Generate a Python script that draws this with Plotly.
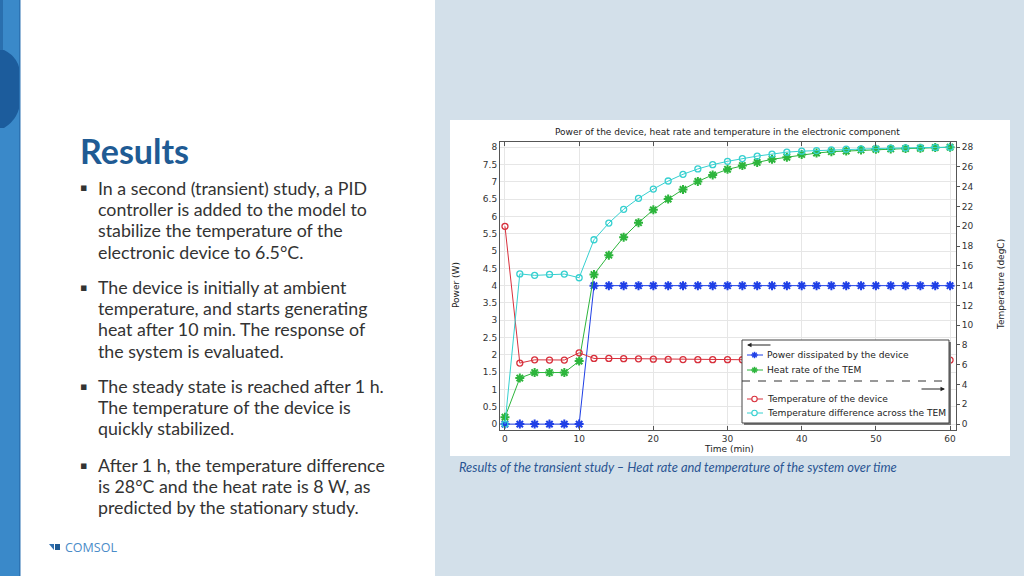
import plotly.graph_objects as go

# time steps of the transient study (min)
time_min = [0, 2, 4, 6, 8, 10, 12, 14, 16, 18, 20, 22, 24, 26, 28, 30,
            32, 34, 36, 38, 40, 42, 44, 46, 48, 50, 52, 54, 56, 58, 60]

# left axis, power (W)
power_device = [0, 0, 0, 0, 0, 0, 4, 4, 4, 4, 4, 4, 4, 4, 4, 4,
                4, 4, 4, 4, 4, 4, 4, 4, 4, 4, 4, 4, 4, 4, 4]
heat_rate_tem = [0.2, 1.33, 1.49, 1.49, 1.49, 1.82, 4.32, 4.88, 5.4, 5.82, 6.19, 6.5, 6.78, 7.01, 7.2, 7.36,
                 7.47, 7.56, 7.65, 7.71, 7.79, 7.83, 7.87, 7.89, 7.92, 7.94, 7.95, 7.96, 7.97, 7.99, 8.0]

# right axis, temperature (degC)
temp_device = [20.0, 6.17, 6.5, 6.48, 6.48, 7.21, 6.64, 6.64, 6.62, 6.6, 6.57, 6.54, 6.53, 6.52, 6.52, 6.52,
               6.51, 6.51, 6.5, 6.5, 6.5, 6.5, 6.5, 6.5, 6.5, 6.5, 6.5, 6.5, 6.5, 6.5, 6.48]
temp_diff_tem = [0.0, 15.19, 15.04, 15.14, 15.17, 14.8, 18.64, 20.33, 21.72, 22.83, 23.77, 24.58, 25.26, 25.8, 26.23, 26.57,
                 26.85, 27.1, 27.3, 27.5, 27.6, 27.66, 27.73, 27.8, 27.83, 27.86, 27.9, 27.93, 27.95, 27.98, 28.0]

legend_labels = ['Power dissipated by the device', 'Heat rate of the TEM',
                 'Temperature of the device', 'Temperature difference across the TEM']
colors = ['#1f3fe6', '#2db53c', '#d8303c', '#36d0d0']

bullets = [
    ['In a second (transient) study, a PID', 'controller is added to the model to',
     'stabilize the temperature of the', 'electronic device to 6.5°C.'],
    ['The device is initially at ambient', 'temperature, and starts generating',
     'heat after 10 min. The response of', 'the system is evaluated.'],
    ['The steady state is reached after 1 h.', 'The temperature of the device is',
     'quickly stabilized.'],
    ['After 1 h, the temperature difference', 'is 28°C and the heat rate is 8 W, as',
     'predicted by the stationary study.'],
]
bullet_first_line = [188, 287, 386, 465]
line_step = 21.2

W, H = 1024, 576


def px(x):
    return x / W


def py(y):
    return 1 - y / H


chart_font = 'DejaVu Sans'
slide_font = 'Lato'

fig = go.Figure()

fig.add_trace(go.Scatter(x=time_min, y=power_device, mode='lines+markers', yaxis='y',
                         line=dict(color=colors[0], width=1),
                         marker=dict(symbol='asterisk-open', size=7.5, line=dict(color=colors[0], width=2))))
fig.add_trace(go.Scatter(x=time_min, y=heat_rate_tem, mode='lines+markers', yaxis='y',
                         line=dict(color=colors[1], width=1),
                         marker=dict(symbol='asterisk-open', size=7.5, line=dict(color=colors[1], width=2))))
fig.add_trace(go.Scatter(x=time_min, y=temp_device, mode='lines+markers', yaxis='y2',
                         line=dict(color=colors[2], width=1),
                         marker=dict(symbol='circle-open', size=6, line=dict(color=colors[2], width=1.3))))
fig.add_trace(go.Scatter(x=time_min, y=temp_diff_tem, mode='lines+markers', yaxis='y2',
                         line=dict(color=colors[3], width=1),
                         marker=dict(symbol='circle-open', size=6, line=dict(color=colors[3], width=1.3))))

shapes = []
annotations = []

# slide background pieces
shapes.append(dict(type='rect', xref='paper', yref='paper', x0=px(20), x1=px(435), y0=0, y1=1,
                   fillcolor='white', line=dict(width=0), layer='below'))
shapes.append(dict(type='rect', xref='paper', yref='paper', x0=0, x1=px(20), y0=0, y1=1,
                   fillcolor='#3a89c9', line=dict(width=0), layer='below'))
shapes.append(dict(type='path', xref='paper', yref='paper', layer='below', fillcolor='#1c5c9c',
                   line=dict(width=0),
                   path='M 0 {a} L {b} {a} Q {c} {d} {c} {e} L {c} {f} Q {c} {g} {b} {h} L 0 {h} Z'.format(
                       a=py(50), b=px(4), c=px(20), d=py(58), e=py(75), f=py(100), g=py(118), h=py(128))))
shapes.append(dict(type='rect', xref='paper', yref='paper', x0=0, x1=px(3), y0=py(50), y1=1,
                   fillcolor='#2a6fae', line=dict(width=0), layer='below'))
shapes.append(dict(type='rect', xref='paper', yref='paper', x0=px(19), x1=px(20.5), y0=0, y1=1,
                   fillcolor='#2c73b3', line=dict(width=0), layer='below'))
# white chart image
shapes.append(dict(type='rect', xref='paper', yref='paper', x0=px(450), x1=px(1010), y0=py(456), y1=py(120),
                   fillcolor='white', line=dict(width=0), layer='below'))

# legend box (drawn by hand, like the COMSOL one)
shapes.append(dict(type='rect', xref='paper', yref='paper', x0=px(744), x1=px(951), y0=py(425), y1=py(342),
                   fillcolor='#777777', line=dict(width=0)))
shapes.append(dict(type='rect', xref='paper', yref='paper', x0=px(742), x1=px(949), y0=py(423), y1=py(340),
                   fillcolor='white', line=dict(color='#444444', width=1)))
shapes.append(dict(type='line', xref='paper', yref='paper', x0=px(742), x1=px(949), y0=py(381), y1=py(381),
                   line=dict(color='#333333', width=1, dash='8px,8px')))
annotations.append(dict(xref='paper', yref='paper', x=px(747), y=py(345), ax=25, ay=0, axref='pixel', ayref='pixel',
                        text='', showarrow=True, arrowhead=2, arrowsize=0.9, arrowwidth=1, arrowcolor='#222'))
annotations.append(dict(xref='paper', yref='paper', x=px(945), y=py(389), ax=-25, ay=0, axref='pixel', ayref='pixel',
                        text='', showarrow=True, arrowhead=2, arrowsize=0.9, arrowwidth=1, arrowcolor='#222'))

row_y = [355, 370, 399, 413]
for i, (lab, col, ry) in enumerate(zip(legend_labels, colors, row_y)):
    shapes.append(dict(type='line', xref='paper', yref='paper', x0=px(747), x1=px(763), y0=py(ry), y1=py(ry),
                       line=dict(color=col, width=1)))
    cx = 754.5
    if i < 2:
        r = 3.2
        for dx, dy in [(r, 0), (0, r), (r * 0.7, r * 0.7), (r * 0.7, -r * 0.7)]:
            shapes.append(dict(type='line', xref='paper', yref='paper',
                               x0=px(cx - dx), x1=px(cx + dx), y0=py(ry - dy), y1=py(ry + dy),
                               line=dict(color=col, width=1.5)))
    else:
        r = 2.7
        shapes.append(dict(type='circle', xref='paper', yref='paper', x0=px(cx - r), x1=px(cx + r),
                           y0=py(ry + r), y1=py(ry - r), fillcolor='white', line=dict(color=col, width=1.1)))
    annotations.append(dict(xref='paper', yref='paper', x=px(765), y=py(ry), xanchor='left', yanchor='middle',
                            text=lab, showarrow=False, font=dict(family=chart_font, size=9.1, color='#222')))

# chart title and axis titles
annotations.append(dict(xref='paper', yref='paper', x=px(727), y=py(132), xanchor='center', yanchor='middle',
                        text='Power of the device, heat rate and temperature in the electronic component',
                        showarrow=False, font=dict(family=chart_font, size=9, color='#222')))
annotations.append(dict(xref='paper', yref='paper', x=px(729), y=py(449), xanchor='center', yanchor='middle',
                        text='Time (min)', showarrow=False, font=dict(family=chart_font, size=9, color='#222')))
annotations.append(dict(xref='paper', yref='paper', x=px(456), y=py(285), xanchor='center', yanchor='middle',
                        text='Power (W)', textangle=-90, showarrow=False,
                        font=dict(family=chart_font, size=9, color='#222')))
annotations.append(dict(xref='paper', yref='paper', x=px(1001), y=py(285), xanchor='center', yanchor='middle',
                        text='Temperature (degC)', textangle=-90, showarrow=False,
                        font=dict(family=chart_font, size=9, color='#222')))

# caption under the chart
annotations.append(dict(xref='paper', yref='paper', x=px(457), y=py(467), xanchor='left', yanchor='middle',
                        text='<i>Results of the transient study – Heat rate and temperature of the system over time</i>',
                        showarrow=False, font=dict(family=slide_font, size=12.9, color='#2a5593')))

# slide title and bullet text
annotations.append(dict(xref='paper', yref='paper', x=px(78), y=py(150), xanchor='left', yanchor='middle',
                        text='<b>Results</b>', showarrow=False, font=dict(family=slide_font, size=34, color='#1f5b94')))
for lines, first in zip(bullets, bullet_first_line):
    annotations.append(dict(xref='paper', yref='paper', x=px(83), y=py(first), xanchor='center', yanchor='middle',
                            text='▪', showarrow=False, font=dict(family='DejaVu Sans', size=11, color='#333333')))
    for k, line in enumerate(lines):
        annotations.append(dict(xref='paper', yref='paper', x=px(96), y=py(first + k * line_step),
                                xanchor='left', yanchor='middle', text=line, showarrow=False,
                                font=dict(family=slide_font, size=17.8, color='#333333')))

# COMSOL logo
shapes.append(dict(type='path', xref='paper', yref='paper', fillcolor='#2f6fb0', line=dict(width=0),
                   path='M {a} {e} L {b} {e} L {b} {f} Z'.format(a=px(49), b=px(54), e=py(544), f=py(550))))
shapes.append(dict(type='rect', xref='paper', yref='paper', x0=px(55), x1=px(60), y0=py(550), y1=py(544),
                   fillcolor='#1f5b94', line=dict(width=0)))
annotations.append(dict(xref='paper', yref='paper', x=px(63), y=py(547), xanchor='left', yanchor='middle',
                        text='COMSOL', showarrow=False, font=dict(family='Open Sans', size=12.5, color='#4a8cc8')))

fig.update_layout(
    width=W, height=H, autosize=False,
    margin=dict(l=0, r=0, t=0, b=0),
    paper_bgcolor='#d3e0ea', plot_bgcolor='white',
    showlegend=False,
    shapes=shapes, annotations=annotations,
    xaxis=dict(domain=[px(500), px(956)], range=[-0.67, 60.8], dtick=10, tick0=0,
               showgrid=True, gridcolor='#e6e6e6', zeroline=False,
               showline=True, linecolor='#555555', linewidth=1, mirror='ticks',
               ticks='inside', ticklen=4, tickcolor='#555555',
               tickfont=dict(family=chart_font, size=9, color='#333')),
    yaxis=dict(domain=[py(430), py(142)], range=[-0.17, 8.15], dtick=0.5, tick0=0,
               showgrid=True, gridcolor='#e6e6e6', zeroline=False,
               showline=True, linecolor='#555555', linewidth=1,
               ticks='', tickfont=dict(family=chart_font, size=9, color='#333')),
    yaxis2=dict(overlaying='y', side='right', anchor='x', range=[-0.595, 28.525], dtick=2, tick0=0,
                showgrid=False, zeroline=False,
                showline=True, linecolor='#555555', linewidth=1,
                ticks='outside', ticklen=3, tickcolor='#555555',
                tickfont=dict(family=chart_font, size=9, color='#333')),
)

# page margin off so the 1024x576 figure fills the window
fig.write_html('out.html', config={'displayModeBar': False},
               post_script="document.body.style.margin='0';")
